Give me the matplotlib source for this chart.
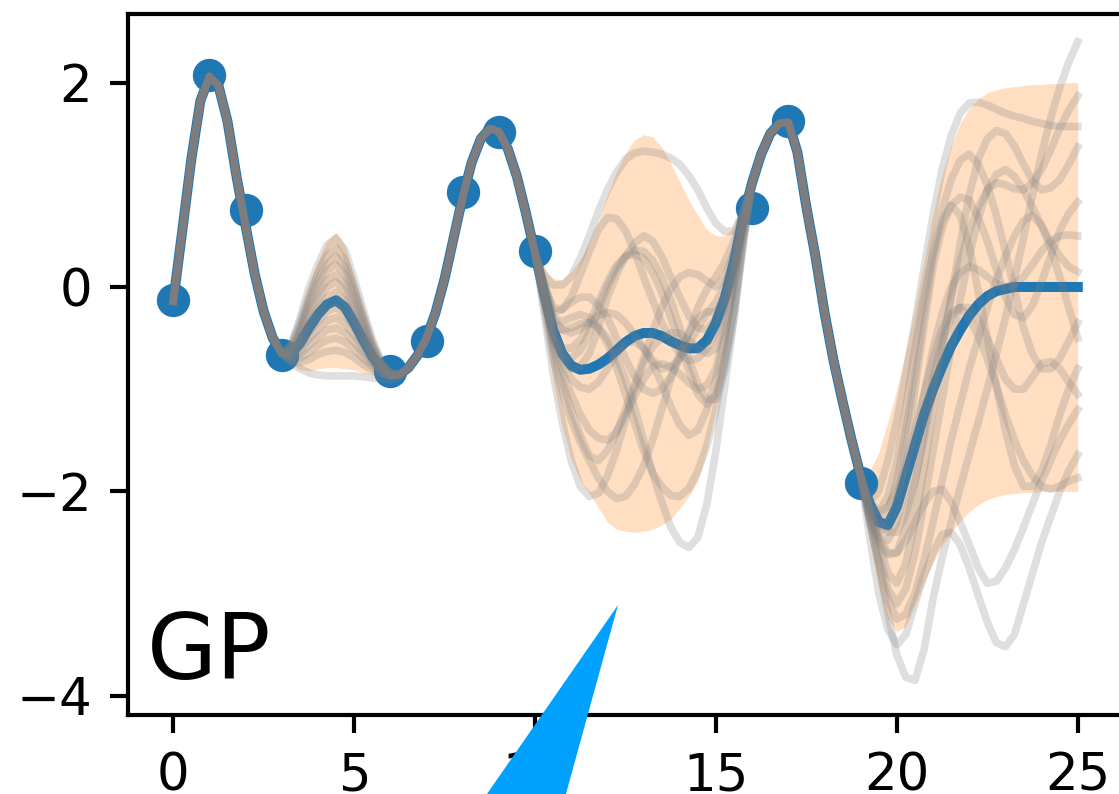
import numpy as np
import matplotlib.pyplot as plt
from matplotlib.patches import Polygon

# observed training points
x_obs = [0, 1, 2, 3, 6, 7, 8, 9, 10, 16, 17, 19]
y_obs = [-0.13, 2.07, 0.75, -0.67, -0.82, -0.53, 0.93, 1.52, 0.35, 0.77, 1.62, -1.92]

# posterior mean and credible band on a 0.25 grid
x_grid = np.linspace(0, 25, 101)
mean = [
    -0.14, 0.55, 1.25, 1.82, 2.06, 1.97, 1.62, 1.08, 0.60, 0.13,
    -0.24, -0.50, -0.65, -0.66, -0.55, -0.40, -0.27, -0.17, -0.13, -0.20,
    -0.35, -0.52, -0.68, -0.80, -0.86, -0.86, -0.79, -0.67, -0.50, -0.25,
    0.08, 0.48, 0.88, 1.22, 1.45, 1.55, 1.52, 1.35, 1.08, 0.72,
    0.33, -0.07, -0.42, -0.65, -0.77, -0.81, -0.80, -0.76, -0.70, -0.62,
    -0.54, -0.48, -0.45, -0.45, -0.48, -0.53, -0.57, -0.60, -0.60, -0.52,
    -0.35, -0.10, 0.25, 0.68, 1.02, 1.30, 1.50, 1.60, 1.61, 1.32,
    0.78, 0.30, -0.25, -0.72, -1.12, -1.50, -1.85, -2.12, -2.30, -2.33,
    -2.15, -1.85, -1.55, -1.25, -1.00, -0.78, -0.58, -0.42, -0.28, -0.17,
    -0.09, -0.04, -0.02, 0.00, 0.00, 0.00, 0.00, 0.00, 0.00, 0.00,
    0.00]
band_lo = [
    -0.14, 0.55, 1.25, 1.82, 2.06, 1.97, 1.62, 1.08, 0.60, 0.13,
    -0.24, -0.50, -0.65, -0.76, -0.81, -0.82, -0.80, -0.79, -0.79, -0.80,
    -0.81, -0.84, -0.86, -0.87, -0.88, -0.86, -0.79, -0.67, -0.50, -0.25,
    0.08, 0.48, 0.88, 1.22, 1.45, 1.55, 1.52, 1.35, 1.08, 0.72,
    0.30, -0.32, -0.92, -1.37, -1.69, -1.89, -2.02, -2.16, -2.30, -2.37,
    -2.39, -2.40, -2.39, -2.37, -2.33, -2.27, -2.17, -2.05, -1.90, -1.60,
    -1.20, -0.70, -0.10, 0.53, 0.99, 1.26, 1.46, 1.56, 1.57, 1.28,
    0.74, 0.26, -0.29, -0.76, -1.16, -1.54, -1.93, -2.50, -2.95, -3.25,
    -3.37, -3.32, -3.12, -2.90, -2.70, -2.53, -2.40, -2.29, -2.20, -2.13,
    -2.08, -2.05, -2.03, -2.02, -2.01, -2.01, -2.00, -2.00, -2.00, -2.00,
    -2.00]
band_hi = [
    -0.14, 0.55, 1.25, 1.82, 2.06, 1.97, 1.62, 1.08, 0.60, 0.13,
    -0.24, -0.50, -0.65, -0.56, -0.29, 0.02, 0.26, 0.45, 0.53, 0.40,
    0.11, -0.20, -0.50, -0.73, -0.84, -0.86, -0.79, -0.67, -0.50, -0.25,
    0.08, 0.48, 0.88, 1.22, 1.45, 1.55, 1.52, 1.35, 1.08, 0.72,
    0.36, 0.18, 0.08, 0.07, 0.15, 0.27, 0.42, 0.64, 0.90, 1.13,
    1.31, 1.44, 1.49, 1.47, 1.37, 1.21, 1.03, 0.85, 0.70, 0.56,
    0.50, 0.50, 0.60, 0.83, 1.05, 1.34, 1.54, 1.64, 1.65, 1.36,
    0.82, 0.34, -0.21, -0.68, -1.08, -1.46, -1.78, -1.80, -1.62, -1.32,
    -1.00, -0.62, -0.20, 0.25, 0.72, 1.10, 1.38, 1.60, 1.75, 1.84,
    1.90, 1.93, 1.95, 1.96, 1.97, 1.98, 1.98, 1.99, 1.99, 2.00,
    2.00]

# posterior draws, only where they leave the mean
xa = np.linspace(3.25, 6.25, 13)
samples_a = [
    [-0.57, -0.31, -0.01, 0.22, 0.41, 0.48, 0.36, 0.08, -0.22, -0.51, -0.73, -0.84, -0.86],
    [-0.58, -0.35, -0.08, 0.14, 0.31, 0.38, 0.26, 0.00, -0.27, -0.54, -0.75, -0.84, -0.86],
    [-0.59, -0.38, -0.13, 0.07, 0.23, 0.30, 0.19, -0.05, -0.31, -0.56, -0.75, -0.85, -0.86],
    [-0.61, -0.41, -0.18, 0.01, 0.16, 0.22, 0.12, -0.11, -0.35, -0.58, -0.76, -0.85, -0.86],
    [-0.62, -0.45, -0.24, -0.07, 0.07, 0.12, 0.03, -0.18, -0.40, -0.61, -0.77, -0.85, -0.86],
    [-0.63, -0.48, -0.29, -0.13, 0.00, 0.05, -0.04, -0.23, -0.43, -0.63, -0.78, -0.85, -0.86],
    [-0.65, -0.52, -0.35, -0.21, -0.10, -0.05, -0.13, -0.29, -0.48, -0.66, -0.79, -0.86, -0.86],
    [-0.66, -0.55, -0.40, -0.27, -0.17, -0.13, -0.20, -0.35, -0.52, -0.68, -0.80, -0.86, -0.86],
    [-0.67, -0.58, -0.45, -0.33, -0.24, -0.20, -0.27, -0.40, -0.56, -0.70, -0.81, -0.86, -0.86],
    [-0.69, -0.62, -0.51, -0.41, -0.33, -0.30, -0.36, -0.47, -0.60, -0.73, -0.82, -0.87, -0.86],
    [-0.70, -0.66, -0.57, -0.49, -0.42, -0.40, -0.45, -0.54, -0.65, -0.75, -0.83, -0.87, -0.86],
    [-0.72, -0.70, -0.64, -0.57, -0.52, -0.50, -0.54, -0.61, -0.70, -0.78, -0.84, -0.87, -0.86],
    [-0.73, -0.74, -0.71, -0.66, -0.63, -0.62, -0.64, -0.69, -0.76, -0.81, -0.85, -0.87, -0.86],
    [-0.74, -0.80, -0.84, -0.86, -0.87, -0.87, -0.87, -0.87, -0.88, -0.89, -0.90, -0.91, -0.89],
]
xb = np.linspace(10.25, 15.75, 23)
samples_b = [
    [0.12, 0.02, 0.02, 0.10, 0.28, 0.50, 0.74, 0.95, 1.12, 1.25, 1.31, 1.33, 1.32, 1.30, 1.26, 1.20, 1.09, 0.95, 0.77, 0.62, 0.54, 0.55, 0.72],
    [0.02, -0.20, -0.22, -0.10, 0.12, 0.35, 0.56, 0.68, 0.67, 0.55, 0.35, 0.10, -0.13, -0.35, -0.52, -0.65, -0.72, -0.70, -0.60, -0.45, -0.18, 0.15, 0.55],
    [-0.12, -0.50, -0.68, -0.70, -0.62, -0.45, -0.22, 0.00, 0.18, 0.30, 0.36, 0.35, 0.26, 0.10, -0.13, -0.40, -0.70, -0.95, -1.10, -1.10, -0.80, -0.30, 0.45],
    [-0.10, -0.45, -0.60, -0.60, -0.52, -0.35, -0.15, 0.05, 0.21, 0.30, 0.32, 0.28, 0.14, -0.05, -0.30, -0.55, -0.82, -1.05, -1.15, -1.05, -0.70, -0.20, 0.48],
    [-0.15, -0.60, -0.92, -1.20, -1.45, -1.65, -1.70, -1.60, -1.42, -1.20, -0.95, -0.70, -0.44, -0.20, -0.02, 0.10, 0.14, 0.12, 0.06, 0.00, 0.10, 0.35, 0.70],
    [-0.25, -0.85, -1.32, -1.70, -1.95, -2.05, -2.02, -1.85, -1.60, -1.30, -1.00, -0.75, -0.58, -0.50, -0.45, -0.45, -0.52, -0.60, -0.65, -0.60, -0.35, 0.10, 0.60],
    [0.00, -0.35, -0.42, -0.40, -0.36, -0.35, -0.40, -0.50, -0.68, -0.90, -1.18, -1.50, -1.82, -2.10, -2.35, -2.50, -2.55, -2.45, -2.12, -1.60, -0.95, -0.30, 0.40],
    [-0.20, -0.70, -1.02, -1.30, -1.52, -1.70, -1.87, -2.00, -2.07, -2.05, -1.93, -1.75, -1.50, -1.20, -0.90, -0.65, -0.45, -0.30, -0.24, -0.25, -0.10, 0.20, 0.62],
    [0.02, -0.30, -0.34, -0.30, -0.27, -0.30, -0.40, -0.55, -0.78, -1.05, -1.33, -1.60, -1.82, -1.95, -2.04, -2.05, -1.97, -1.80, -1.55, -1.20, -0.72, -0.20, 0.45],
    [0.02, -0.30, -0.42, -0.45, -0.41, -0.35, -0.28, -0.25, -0.27, -0.35, -0.47, -0.60, -0.72, -0.80, -0.78, -0.70, -0.56, -0.40, -0.26, -0.15, 0.02, 0.30, 0.68],
    [-0.08, -0.50, -0.74, -0.90, -0.98, -1.00, -0.93, -0.80, -0.65, -0.55, -0.53, -0.60, -0.75, -0.95, -1.17, -1.35, -1.45, -1.40, -1.20, -0.90, -0.48, 0.00, 0.55],
    [-0.10, -0.55, -0.82, -1.05, -1.25, -1.40, -1.48, -1.50, -1.42, -1.25, -1.07, -0.90, -0.78, -0.75, -0.78, -0.85, -0.94, -1.00, -0.96, -0.80, -0.42, 0.05, 0.58],
    [0.05, -0.25, -0.22, -0.15, -0.10, -0.10, -0.18, -0.30, -0.50, -0.70, -0.88, -1.00, -1.04, -1.00, -0.88, -0.70, -0.45, -0.20, -0.02, 0.10, 0.25, 0.45, 0.75],
    [-0.05, -0.40, -0.65, -0.80, -0.78, -0.65, -0.40, -0.10, 0.12, 0.30, 0.43, 0.50, 0.45, 0.30, 0.10, -0.10, -0.28, -0.40, -0.42, -0.30, -0.08, 0.20, 0.62],
]
xc = np.linspace(19.25, 25, 24)
samples_c = [
    [-2.30, -2.70, -3.20, -3.60, -3.82, -3.85, -3.55, -3.05, -2.65, -2.30, -1.96, -1.64, -1.32, -1.00, -0.65, -0.30, 0.08, 0.48, 0.90, 1.30, 1.65, 1.95, 2.20, 2.40],
    [-2.15, -2.30, -2.40, -2.40, -2.22, -1.90, -1.48, -1.00, -0.55, -0.10, 0.25, 0.55, 0.78, 0.95, 1.02, 1.00, 0.96, 0.95, 1.02, 1.15, 1.34, 1.55, 1.73, 1.87],
    [-2.10, -2.00, -1.70, -1.30, -0.85, -0.35, 0.18, 0.70, 1.15, 1.48, 1.70, 1.80, 1.81, 1.78, 1.74, 1.70, 1.67, 1.65, 1.62, 1.60, 1.58, 1.57, 1.57, 1.57],
    [-2.20, -2.50, -2.80, -2.90, -2.70, -2.30, -1.78, -1.20, -0.65, -0.10, 0.42, 0.90, 1.25, 1.45, 1.53, 1.50, 1.38, 1.20, 1.04, 0.95, 0.97, 1.05, 1.20, 1.37],
    [-2.20, -2.40, -2.35, -2.10, -1.60, -1.00, -0.38, 0.20, 0.58, 0.80, 0.88, 0.85, 0.68, 0.45, 0.17, -0.10, -0.27, -0.30, -0.18, 0.05, 0.30, 0.55, 0.72, 0.83],
    [-2.25, -2.60, -2.95, -3.10, -2.95, -2.60, -2.12, -1.60, -1.10, -0.60, -0.12, 0.30, 0.67, 0.95, 1.10, 1.15, 1.08, 0.95, 0.78, 0.60, 0.44, 0.30, 0.20, 0.15],
    [-2.10, -2.20, -2.05, -1.70, -1.18, -0.60, -0.10, 0.35, 0.75, 1.05, 1.24, 1.30, 1.20, 1.00, 0.70, 0.35, -0.03, -0.40, -0.66, -0.80, -0.80, -0.70, -0.53, -0.35],
    [-2.30, -2.70, -3.05, -3.25, -3.20, -3.00, -2.68, -2.30, -1.90, -1.50, -1.15, -0.80, -0.50, -0.20, 0.07, 0.30, 0.50, 0.65, 0.70, 0.60, 0.38, 0.10, -0.20, -0.50],
    [-2.20, -2.35, -2.20, -1.90, -1.40, -0.85, -0.25, 0.30, 0.65, 0.80, 0.70, 0.40, -0.05, -0.50, -0.97, -1.40, -1.75, -1.95, -1.95, -1.80, -1.55, -1.25, -1.00, -0.80],
    [-2.25, -2.45, -2.60, -2.60, -2.35, -1.90, -1.40, -0.90, -0.53, -0.30, -0.20, -0.20, -0.32, -0.50, -0.70, -0.90, -1.00, -1.00, -0.88, -0.75, -0.73, -0.80, -0.93, -1.05],
    [-2.30, -2.50, -2.62, -2.60, -2.48, -2.30, -2.12, -2.00, -1.98, -2.10, -2.30, -2.52, -2.75, -2.90, -2.88, -2.75, -2.57, -2.35, -2.12, -1.90, -1.70, -1.50, -1.34, -1.20],
    [-2.45, -3.00, -3.35, -3.50, -3.40, -3.10, -2.82, -2.60, -2.42, -2.40, -2.52, -2.75, -3.02, -3.28, -3.48, -3.52, -3.40, -3.10, -2.80, -2.50, -2.25, -2.00, -1.80, -1.64],
    [-2.15, -2.20, -2.15, -2.00, -1.74, -1.40, -1.05, -0.70, -0.42, -0.25, -0.20, -0.30, -0.48, -0.70, -0.97, -1.25, -1.50, -1.70, -1.85, -1.95, -1.98, -1.95, -1.90, -1.87],
    [-2.20, -2.45, -2.48, -2.30, -1.95, -1.50, -1.05, -0.60, -0.26, 0.00, 0.14, 0.20, 0.17, 0.10, 0.03, 0.00, 0.03, 0.10, 0.22, 0.35, 0.45, 0.50, 0.51, 0.50],
]

W, H = 1119, 794
fig = plt.figure(figsize=(W / 100, H / 100), dpi=100)
ax = fig.add_axes([128 / W, 79 / H, 995 / W, 701 / H])

ax.fill_between(x_grid, band_lo, band_hi, color='C1', alpha=0.25, lw=0)
ax.plot(x_obs, y_obs, 'o', color='C0', ms=24, mew=0)
ax.plot(x_grid, mean, color='C0', lw=7.2)

# each draw follows the mean where the data pin it down
mean = np.array(mean)
for a, b, c in zip(samples_a, samples_b, samples_c):
    xs = np.concatenate([x_grid[:13], xa, x_grid[26:41], xb, x_grid[64:77], xc])
    ys = np.concatenate([mean[:13], a, mean[26:41], b, mean[64:77], c])
    ax.plot(xs, ys, color='gray', alpha=0.25, lw=5.5)

ax.text(0.019, 0.051, 'GP', transform=ax.transAxes, fontsize=65,
        ha='left', va='baseline')

ax.set_xlim(-1.25, 26.25)
ax.set_ylim(-4.188, 2.671)
ax.set_xticks([0, 5, 10, 15, 20, 25])
ax.set_yticks([-4, -2, 0, 2])
ax.tick_params(labelsize=37, length=13, width=3, pad=13)
for s in ax.spines.values():
    s.set_linewidth(3)

# pointer wedge drawn over the axes
tip = (618, 605)
wedge = Polygon([(tip[0] / W, 1 - tip[1] / H), (462 / W, 1 - 830 / H), (556 / W, 1 - 830 / H)],
                closed=True, transform=fig.transFigure, facecolor='#00a0ff',
                edgecolor='none', zorder=10)
fig.add_artist(wedge)

fig.savefig('out.png', dpi=100)
